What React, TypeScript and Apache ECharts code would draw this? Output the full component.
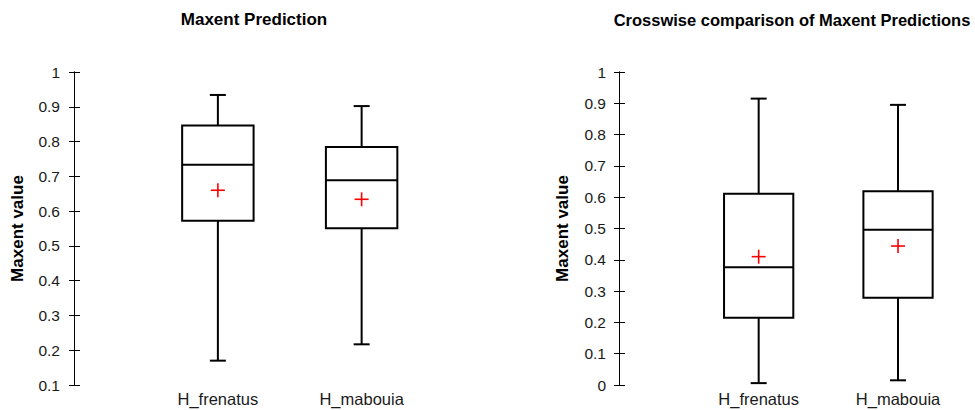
import React, { useEffect, useRef } from "react";
import * as echarts from "echarts";

const categories = ["H_frenatus", "H_mabouia"];

// Panel 1: Maxent Prediction
const predWhiskerLow = [0.17, 0.217];
const predQ1 = [0.572, 0.551];
const predMedian = [0.733, 0.689];
const predQ3 = [0.846, 0.784];
const predWhiskerHigh = [0.934, 0.902];
const predMean = [0.66, 0.634];

// Panel 2: Crosswise comparison
const crossWhiskerLow = [0.006, 0.015];
const crossQ1 = [0.215, 0.279];
const crossMedian = [0.376, 0.496];
const crossQ3 = [0.611, 0.619];
const crossWhiskerHigh = [0.915, 0.895];
const crossMean = [0.41, 0.444];

const titles = ["Maxent Prediction", "Crosswise comparison of Maxent Predictions"];
const yName = "Maxent value";

const FONT = "Liberation Sans, Arial, sans-serif";

function buildRows(lo: number[], q1: number[], med: number[], q3: number[], hi: number[], mean: number[]) {
  return categories.map((_, i) => [i, lo[i], q1[i], med[i], q3[i], hi[i], mean[i]]);
}

const renderBox = (params: any, api: any) => {
  const idx = api.value(0);
  const lo = api.coord([idx, api.value(1)]);
  const q1 = api.coord([idx, api.value(2)]);
  const med = api.coord([idx, api.value(3)]);
  const q3 = api.coord([idx, api.value(4)]);
  const hi = api.coord([idx, api.value(5)]);
  const mean = api.coord([idx, api.value(6)]);
  const band = api.size([1, 0])[0];
  const bw = band * 0.497;
  const cx = q1[0];
  const cap = 8;
  const cross = 7;
  const ls = { stroke: "#000", lineWidth: 2 };
  return {
    type: "group",
    children: [
      { type: "line", shape: { x1: cx, y1: hi[1], x2: cx, y2: q3[1] }, style: ls },
      { type: "line", shape: { x1: cx, y1: q1[1], x2: cx, y2: lo[1] }, style: ls },
      { type: "line", shape: { x1: cx - cap, y1: hi[1], x2: cx + cap, y2: hi[1] }, style: ls },
      { type: "line", shape: { x1: cx - cap, y1: lo[1], x2: cx + cap, y2: lo[1] }, style: ls },
      {
        type: "rect",
        shape: { x: cx - bw / 2, y: q3[1], width: bw, height: q1[1] - q3[1] },
        style: { fill: "#fff", stroke: "#000", lineWidth: 2 },
      },
      { type: "line", shape: { x1: cx - bw / 2, y1: med[1], x2: cx + bw / 2, y2: med[1] }, style: ls },
      { type: "line", shape: { x1: cx - cross, y1: mean[1], x2: cx + cross, y2: mean[1] }, style: { stroke: "#f00", lineWidth: 1.6 } },
      { type: "line", shape: { x1: cx, y1: mean[1] - cross, x2: cx, y2: mean[1] + cross }, style: { stroke: "#f00", lineWidth: 1.6 } },
    ],
  };
};

function yAxes(gridIndex: number, min: number, offset: number, margin: number, nameGap: number) {
  const common = {
    type: "value",
    gridIndex,
    min,
    max: 1,
    interval: 0.1,
    position: "left",
    offset,
    splitLine: { show: false },
    axisLine: { show: true, lineStyle: { color: "#000", width: 1 } },
  };
  return [
    {
      ...common,
      name: yName,
      nameLocation: "middle",
      nameGap,
      nameTextStyle: { fontFamily: FONT, fontWeight: "bold", fontSize: 17, color: "#000" },
      axisTick: { show: true, inside: false, length: 5, lineStyle: { color: "#000" } },
      axisLabel: { margin, fontFamily: FONT, fontSize: 15.5, color: "#1a1a1a" },
    },
    {
      ...common,
      axisTick: { show: true, inside: true, length: 6, lineStyle: { color: "#000" } },
      axisLabel: { show: false },
    },
  ];
}

function xAxis(gridIndex: number) {
  return {
    type: "category",
    gridIndex,
    data: categories,
    axisLine: { show: false },
    axisTick: { show: false },
    axisLabel: { margin: 5, fontFamily: FONT, fontSize: 16.5, color: "#1a1a1a" },
  };
}

export default function App() {
  const ref = useRef<HTMLDivElement>(null);
  useEffect(() => {
    if (!ref.current) return;
    const chart = echarts.init(ref.current, null, { renderer: "svg" });
    chart.setOption({
      animation: false,
      backgroundColor: "#fff",
      title: [
        {
          text: titles[0],
          left: 254,
          top: 11,
          textAlign: "center",
          padding: 0,
          textStyle: { fontFamily: FONT, fontWeight: "bold", fontSize: 17, color: "#000" },
        },
        {
          text: titles[1],
          left: 792,
          top: 11,
          textAlign: "center",
          padding: 0,
          textStyle: { fontFamily: FONT, fontWeight: "bold", fontSize: 16.5, color: "#000" },
        },
      ],
      grid: [
        { left: 146, right: 541.5, top: 72, bottom: 25 },
        { left: 689, right: 7.3, top: 72, bottom: 25 },
      ],
      xAxis: [xAxis(0), xAxis(1)],
      yAxis: [...yAxes(0, 0.1, 72, 14, 48), ...yAxes(1, 0, 70, 13, 48.5)],
      series: [
        {
          type: "custom",
          xAxisIndex: 0,
          yAxisIndex: 0,
          renderItem: renderBox,
          data: buildRows(predWhiskerLow, predQ1, predMedian, predQ3, predWhiskerHigh, predMean),
        },
        {
          type: "custom",
          xAxisIndex: 1,
          yAxisIndex: 2,
          renderItem: renderBox,
          data: buildRows(crossWhiskerLow, crossQ1, crossMedian, crossQ3, crossWhiskerHigh, crossMean),
        },
      ],
    });
    return () => chart.dispose();
  }, []);
  return (
    <div
      ref={ref}
      style={{ position: "fixed", left: 0, top: 0, width: 975, height: 410 }}
    />
  );
}
